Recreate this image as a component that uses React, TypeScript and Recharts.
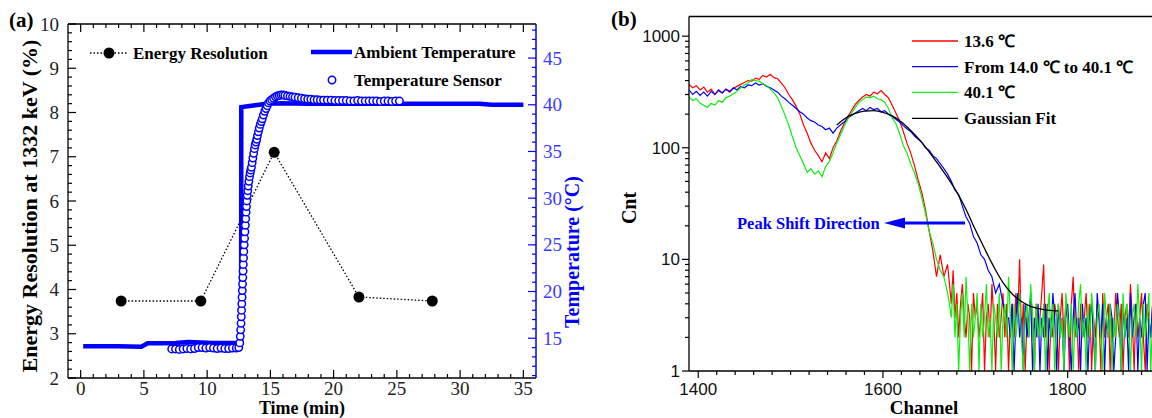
import React from "react";
import { ComposedChart, Line, XAxis, YAxis } from "recharts";

const SERIF = "'Liberation Serif', 'Times New Roman', serif";
const SANS = "'Liberation Sans', Arial, sans-serif";
const BLUE = "#0000ff";
const GREEN = "#10f010";

// ---------- panel (a) ----------
const resTime = [3.2, 9.5, 15.3, 22.0, 27.8];
const resValue = [3.74, 3.74, 7.1, 3.83, 3.74];

const ambientTime = [0.2, 1.5, 3.0, 4.8, 5.3, 6.5, 7.5, 8.5, 9.5, 10.5, 11.5, 12.69, 12.7, 13.2, 13.8, 14.7, 16, 18, 20, 22, 24, 26, 28, 30, 31.5, 32.5, 34, 35];
const ambientTemp = [14.15, 14.15, 14.15, 14.1, 14.45, 14.45, 14.5, 14.6, 14.55, 14.5, 14.5, 14.5, 39.75, 39.85, 39.95, 40.1, 40.15, 40.1, 40.1, 40.1, 40.1, 40.1, 40.1, 40.1, 40.1, 40.0, 40.0, 40.0];

const sensorTime = [
  7.2, 7.5, 7.8, 8.1, 8.4, 8.7, 9.0, 9.3, 9.6, 9.9, 10.2, 10.5, 10.8, 11.1, 11.4, 11.7, 12.0, 12.3, 12.5,
  12.58, 12.62, 12.65, 12.68, 12.7, 12.72, 12.74, 12.76, 12.78, 12.8, 12.82, 12.84, 12.86, 12.88, 12.9, 12.93, 12.96, 12.99, 13.02, 13.05, 13.08, 13.11, 13.14,
  13.17, 13.21, 13.25, 13.3, 13.35, 13.4, 13.45, 13.5, 13.56, 13.62, 13.68, 13.74, 13.8, 13.86, 13.92, 13.98, 14.05, 14.12, 14.2, 14.28, 14.36, 14.45, 14.55, 14.65, 14.75, 14.85, 14.97, 15.1, 15.25, 15.4, 15.55, 15.7, 15.85, 16.0, 16.15,
  16.35, 16.55, 16.75, 16.95, 17.2, 17.45, 17.7, 17.95, 18.2, 18.45, 18.7, 18.95, 19.2, 19.5, 19.8, 20.1, 20.4, 20.7, 21.0, 21.3, 21.6, 21.9, 22.2, 22.5, 22.8, 23.1, 23.4, 23.7, 24.0, 24.3, 24.6, 24.9, 25.2,
];
const sensorTemp = [
  13.85, 13.85, 13.8, 13.85, 13.9, 13.85, 13.9, 14.0, 14.0, 13.95, 14.0, 13.95, 13.9, 13.95, 13.9, 13.9, 13.95, 13.95, 14.0,
  14.5, 15.2, 15.9, 16.6, 17.3, 18.0, 18.7, 19.4, 20.1, 20.8, 21.5, 22.2, 22.9, 23.6, 24.3, 25.0, 25.7, 26.4, 27.1, 27.8, 28.5, 29.1, 29.7,
  30.3, 30.8, 31.3, 31.8, 32.3, 32.7, 33.0, 33.3, 33.8, 34.3, 34.8, 35.3, 35.7, 36.0, 36.3, 36.7, 37.1, 37.5, 37.9, 38.2, 38.5, 38.9, 39.3, 39.6, 39.9, 40.2, 40.4, 40.55, 40.7, 40.85, 40.95, 41.0, 41.05, 41.05, 41.0,
  40.95, 40.9, 40.85, 40.8, 40.75, 40.7, 40.65, 40.6, 40.6, 40.55, 40.55, 40.5, 40.5, 40.5, 40.5, 40.45, 40.45, 40.45, 40.45, 40.4, 40.4, 40.45, 40.4, 40.4, 40.4, 40.4, 40.4, 40.35, 40.4, 40.4, 40.35, 40.4, 40.4,
];

const timeMajor = [0, 5, 10, 15, 20, 25, 30, 35];
const resMajor = [2, 3, 4, 5, 6, 7, 8, 9, 10];
const tempMajor = [15, 20, 25, 30, 35, 40, 45];

// ---------- panel (b) ----------
// peak region sampled every 4 channels, noisy tail every 2 channels
const redStart = 1390;
const redCnt = [
  370, 345, 360, 330, 350, 315, 335, 300, 325, 310,
  335, 315, 340, 355, 370, 385, 400, 395, 420, 410,
  445, 430, 455, 425, 415, 380, 345, 300, 270, 235,
  200, 160, 135, 110, 95, 85, 75, 90, 80, 100,
  115, 140, 165, 190, 215, 245, 265, 285, 300, 290,
  315, 305, 325, 300, 280, 240, 205, 175, 140, 110,
  90, 70, 52, 40, 28, 18, 12, 7, 11, 7,
  9,
];
const redTailStart = 1672;
const redTail = [
  6, 4, 8, 3, 5, 2, 4, 6, 3, 2,
  4, 3, 1, 5, 3, 4, 2, 3, 5, 1,
  3, 4, 2, 6, 3, 1, 4, 2, 3, 5,
  2, 4, 1, 3, 4, 2, 5, 3, 10, 2,
  4, 1, 3, 2, 5, 3, 1, 4, 2, 3,
  5, 9, 2, 4, 1, 3, 2, 4, 3, 1,
  3, 5, 2, 4, 3, 1, 4, 7, 2, 3,
  1, 4, 2, 3, 5, 2, 4, 1, 3, 2,
  4, 3, 1, 5, 2, 3, 4, 1, 3, 2,
  5, 3, 2, 4, 1, 3, 4, 2, 6, 3,
  1, 4, 2, 3, 5, 2, 1, 4, 3, 2,
  4, 1, 3, 5, 2,
];
const blueStart = 1390;
const blueCnt = [
  330, 300, 320, 295, 315, 290, 320, 300, 330, 310,
  335, 320, 345, 330, 355, 345, 365, 360, 380, 365,
  375, 355, 345, 330, 315, 290, 275, 255, 240, 225,
  210, 200, 185, 175, 170, 160, 155, 145, 150, 135,
  150, 160, 170, 185, 195, 205, 215, 225, 215, 230,
  220, 225, 210, 215, 200, 190, 180, 170, 158, 148,
  140, 128, 120, 112, 100, 95, 85, 80, 72, 65,
  58, 50, 42, 38, 30, 24, 21, 16, 14, 11,
  10, 8, 7, 5, 6, 4, 3,
];
const blueTailStart = 1736;
const blueTail = [
  3, 2, 4, 1, 3, 5, 2, 3, 1, 4,
  2, 3, 5, 1, 3, 2, 4, 1, 3, 2,
  4, 1, 3, 2, 5, 3, 1, 4, 2, 3,
  1, 3, 4, 2, 1, 3, 5, 2, 3, 1,
  4, 2, 3, 1, 3, 4, 2, 1, 5, 3,
  2, 4, 1, 3, 2, 4, 3, 1, 2, 5,
  3, 1, 4, 2, 3, 1, 5, 2, 3, 4,
  1, 3, 2, 4, 5, 1, 3, 2, 4, 1,
  3, 2, 4,
];
const greenStart = 1390;
const greenCnt = [
  285, 265, 275, 250, 240, 230, 250, 240, 265, 255,
  280, 290, 305, 320, 345, 365, 380, 410, 400, 395,
  375, 360, 335, 310, 280, 235, 195, 160, 125, 100,
  85, 72, 60, 65, 58, 62, 55, 68, 75, 90,
  110, 130, 155, 180, 205, 230, 255, 270, 285, 280,
  290, 275, 270, 255, 225, 185, 165, 135, 105, 90,
  72, 60, 48, 36, 26, 18, 14, 10, 8, 7,
  5,
];
const greenTailStart = 1672;
const greenTail = [
  4, 3, 6, 2, 4, 1, 3, 5, 2, 7,
  3, 1, 4, 2, 3, 5, 1, 4, 2, 3,
  6, 2, 3, 1, 4, 3, 2, 5, 1, 3,
  4, 2, 7, 3, 1, 4, 2, 3, 5, 2,
  1, 3, 4, 2, 6, 3, 1, 4, 2, 3,
  2, 4, 1, 3, 5, 2, 4, 1, 3, 4,
  2, 3, 1, 5, 3, 2, 4, 1, 3, 2,
  4, 6, 2, 3, 1, 4, 2, 5, 3, 1,
  3, 4, 2, 1, 5, 3, 2, 4, 1, 3,
  2, 4, 3, 1, 5, 2, 4, 3, 1, 3,
  4, 2, 6, 3, 1, 4, 2, 3, 5, 1,
  3, 4, 2, 6, 3,
];
const fitChannel = [1550, 1560, 1570, 1580, 1590, 1600, 1610, 1620, 1630, 1640, 1650, 1660, 1670, 1680, 1690, 1700, 1710, 1720, 1730, 1740, 1750, 1760, 1770, 1780, 1790];
const fitCnt = [160, 186, 203, 213, 215, 208, 193, 170, 143, 117, 92, 71, 54, 40, 28, 18.5, 12.5, 8.6, 6.2, 4.9, 4.2, 3.8, 3.6, 3.5, 3.45];

const channelMajor = [1400, 1600, 1800];
const cntMajor = [1, 10, 100, 1000];

// ---------- helpers ----------
const steps = (from: number, to: number, step: number) => {
  const out: number[] = [];
  for (let v = from; v <= to + 1e-9; v += step) out.push(Math.round(v * 1000) / 1000);
  return out;
};
const isMajor = (v: number, list: number[]) => list.some((m) => Math.abs(m - v) < 1e-6);

const resTable = resTime.map((t, i) => ({ t, res: resValue[i] }));
const ambientTable = ambientTime.map((t, i) => ({ t, temp: ambientTemp[i] }));
const sensorTable = sensorTime.map((t, i) => ({ t, temp: sensorTemp[i] }));
const spectrum = (arr: number[], start: number, step: number) => arr.map((cnt, i) => ({ ch: start + i * step, cnt }));
const redTable = [...spectrum(redCnt, redStart, 4), ...spectrum(redTail, redTailStart, 2)];
const blueTable = [...spectrum(blueCnt, blueStart, 4), ...spectrum(blueTail, blueTailStart, 2)];
const greenTable = [...spectrum(greenCnt, greenStart, 4), ...spectrum(greenTail, greenTailStart, 2)];
const fitTable = fitChannel.map((ch, i) => ({ ch, cnt: fitCnt[i] }));

const logTicks = [1, 2, 3, 4, 5, 6, 7, 8, 9, 10, 20, 30, 40, 50, 60, 70, 80, 90, 100, 200, 300, 400, 500, 600, 700, 800, 900, 1000];

type Side = "bottom" | "top" | "left" | "right";

function makeTick(side: Side, majors: number[], opts: { inward: boolean; color: string; labelColor: string; font: string; size: number; gap: number; label: boolean; major?: number; minor?: number }) {
  return (props: any) => {
    const { x, y, payload } = props;
    const v = payload.value;
    const major = isMajor(v, majors);
    const len = major ? opts.major ?? 8 : opts.minor ?? 4;
    const s = opts.inward ? -1 : 1;
    let x2 = x, y2 = y, tx = x, ty = y, anchor = "middle";
    if (side === "bottom") { y2 = y + s * len; ty = y + opts.gap; }
    if (side === "top") { y2 = y - s * len; ty = y - opts.gap; }
    if (side === "left") { x2 = x - s * len; tx = x - opts.gap; anchor = "end"; }
    if (side === "right") { x2 = x + s * len; tx = x + opts.gap; anchor = "start"; }
    return (
      <g>
        <line x1={x} y1={y} x2={x2} y2={y2} stroke={opts.color} strokeWidth={1.2} />
        {major && opts.label && (
          <text x={tx} y={ty} dy="0.35em" textAnchor={anchor} fill={opts.labelColor} fontFamily={opts.font} fontSize={opts.size}>
            {v}
          </text>
        )}
      </g>
    );
  };
}

function PanelA() {
  const serifTick = { inward: true, color: "#000", labelColor: "#222", font: SERIF, size: 19, label: true };
  return (
    <ComposedChart width={600} height={418} margin={{ top: 23, right: 0, bottom: 0, left: 0 }}>
      <XAxis xAxisId="bottom" dataKey="t" type="number" domain={[-1, 36]} allowDataOverflow ticks={steps(0, 35, 1)} interval={0}
        height={40} tickSize={0} tickMargin={0} tickLine={false} axisLine={{ stroke: "#000", strokeWidth: 1.3 }}
        tick={makeTick("bottom", timeMajor, { ...serifTick, gap: 10 })} />
      <XAxis xAxisId="top" orientation="top" dataKey="t" type="number" domain={[-1, 36]} allowDataOverflow ticks={steps(0, 35, 1)} interval={0}
        height={1} tickSize={0} tickMargin={0} tickLine={false} axisLine={{ stroke: "#000", strokeWidth: 1.3 }}
        tick={makeTick("top", timeMajor, { ...serifTick, gap: 0, label: false })} />
      <YAxis yAxisId="left" type="number" domain={[2, 10]} allowDataOverflow ticks={steps(2, 10, 0.2)} interval={0}
        width={68} tickSize={0} tickMargin={0} tickLine={false} axisLine={{ stroke: "#000", strokeWidth: 1.3 }}
        tick={makeTick("left", resMajor, { ...serifTick, gap: 9 })} />
      <YAxis yAxisId="right" orientation="right" type="number" domain={[10.74, 48.65]} allowDataOverflow ticks={steps(11, 48, 1)} interval={0}
        width={64} tickSize={0} tickMargin={0} tickLine={false} axisLine={{ stroke: BLUE, strokeWidth: 1.5 }}
        tick={makeTick("right", tempMajor, { ...serifTick, color: BLUE, labelColor: "#3a3aff", gap: 7 })} />
      <Line xAxisId="bottom" yAxisId="right" data={ambientTable} dataKey="temp" type="linear" stroke={BLUE} strokeWidth={4.5}
        dot={false} activeDot={false} isAnimationActive={false} strokeLinejoin="miter" />
      <Line xAxisId="bottom" yAxisId="right" data={sensorTable} dataKey="temp" type="linear" stroke="none"
        dot={{ r: 3.7, fill: "#fff", stroke: BLUE, strokeWidth: 1.5 }} activeDot={false} isAnimationActive={false} />
      <Line xAxisId="bottom" yAxisId="left" data={resTable} dataKey="res" type="linear" stroke="#000" strokeWidth={1.3}
        strokeDasharray="1.5 2" dot={{ r: 5.5, fill: "#000", stroke: "none", strokeDasharray: "0" }} activeDot={false} isAnimationActive={false} />
    </ComposedChart>
  );
}

function PanelB() {
  const sansTick = { inward: false, color: "#000", labelColor: "#111", font: SANS, size: 17, label: true, major: 7, minor: 4 };
  return (
    <ComposedChart width={560} height={418} margin={{ top: 15.5, right: 0, bottom: 0, left: 0 }}>
      <XAxis xAxisId="bottom" dataKey="ch" type="number" domain={[1390, 1900]} allowDataOverflow ticks={steps(1400, 1900, 20)} interval={0}
        height={47} tickSize={0} tickMargin={0} tickLine={false} axisLine={{ stroke: "#000", strokeWidth: 1.3 }}
        tick={makeTick("bottom", channelMajor, { ...sansTick, gap: 18 })} />
      <XAxis xAxisId="top" orientation="top" dataKey="ch" type="number" domain={[1390, 1900]} allowDataOverflow height={1}
        tick={false} tickLine={false} axisLine={{ stroke: "#000", strokeWidth: 1.3 }} />
      <YAxis yAxisId="left" type="number" scale="log" domain={[1, 1500]} allowDataOverflow ticks={logTicks} interval={0}
        width={89} tickSize={0} tickMargin={0} tickLine={false} axisLine={{ stroke: "#000", strokeWidth: 1.3 }}
        tick={makeTick("left", cntMajor, { ...sansTick, gap: 9 })} />
      <Line xAxisId="bottom" yAxisId="left" data={redTable} dataKey="cnt" type="linear" stroke="#ff0000" strokeWidth={1.2} dot={false} activeDot={false} isAnimationActive={false} />
      <Line xAxisId="bottom" yAxisId="left" data={blueTable} dataKey="cnt" type="linear" stroke={BLUE} strokeWidth={1.2} dot={false} activeDot={false} isAnimationActive={false} />
      <Line xAxisId="bottom" yAxisId="left" data={greenTable} dataKey="cnt" type="linear" stroke={GREEN} strokeWidth={1.2} dot={false} activeDot={false} isAnimationActive={false} />
      <Line xAxisId="bottom" yAxisId="left" data={fitTable} dataKey="cnt" type="monotone" stroke="#000" strokeWidth={1.3} dot={false} activeDot={false} isAnimationActive={false} />
    </ComposedChart>
  );
}

function Overlay() {
  const bold = { fontFamily: SERIF, fontWeight: 700 as const };
  return (
    <svg width={1152} height={418} style={{ position: "absolute", left: 0, top: 0, pointerEvents: "none" }}>
      <text x={9} y={20} dy="0.35em" fontSize={21} {...bold}>(a)</text>
      <text x={611} y={19} dy="0.35em" fontSize={21} {...bold}>(b)</text>

      <text transform="translate(29,206) rotate(-90)" textAnchor="middle" dy="0.35em" fontSize={22} {...bold}>Energy Resolution at 1332 keV (%)</text>
      <text transform="translate(572,252) rotate(-90)" textAnchor="middle" dy="0.35em" fontSize={20} fill={BLUE} {...bold}>Temperature (°C)</text>
      <text x={302} y={408} textAnchor="middle" dy="0.35em" fontSize={18} {...bold}>Time (min)</text>
      <text x={924} y={407} textAnchor="middle" dy="0.35em" fontSize={19} {...bold}>Channel</text>
      <text transform="translate(629,208) rotate(-90)" textAnchor="middle" dy="0.35em" fontSize={20} {...bold}>Cnt</text>

      <g fontSize={17} {...bold}>
        <line x1={90} x2={127} y1={53} y2={53} stroke="#000" strokeWidth={1.3} strokeDasharray="1.5 2" />
        <circle cx={109} cy={53} r={5.5} fill="#000" />
        <text x={133} y={53} dy="0.35em">Energy Resolution</text>
        <line x1={311} x2={352} y1={52} y2={52} stroke={BLUE} strokeWidth={4.5} />
        <text x={354} y={52} dy="0.35em">Ambient Temperature</text>
        <circle cx={332} cy={80} r={3.7} fill="#fff" stroke={BLUE} strokeWidth={1.5} />
        <text x={354} y={80} dy="0.35em">Temperature Sensor</text>
      </g>

      <g fontSize={17} {...bold}>
        <line x1={912} x2={958} y1={41} y2={41} stroke="#ff0000" strokeWidth={1.3} />
        <text x={964} y={41} dy="0.35em">13.6 ℃</text>
        <line x1={912} x2={958} y1={66.7} y2={66.7} stroke={BLUE} strokeWidth={1.3} />
        <text x={964} y={66.7} dy="0.35em">From 14.0 ℃ to 40.1 ℃</text>
        <line x1={912} x2={958} y1={92.3} y2={92.3} stroke={GREEN} strokeWidth={1.3} />
        <text x={964} y={92.3} dy="0.35em">40.1 ℃</text>
        <line x1={912} x2={958} y1={118.3} y2={118.3} stroke="#000" strokeWidth={1.3} />
        <text x={964} y={118.3} dy="0.35em">Gaussian Fit</text>
      </g>

      <text x={737} y={223} dy="0.35em" fontSize={16.5} fill={BLUE} {...bold}>Peak Shift Direction</text>
      <line x1={965} x2={900} y1={223} y2={223} stroke={BLUE} strokeWidth={3} />
      <polygon points="884,223 905,217.5 905,228.5" fill={BLUE} />
    </svg>
  );
}

export default function App() {
  return (
    <div style={{ position: "absolute", left: 0, top: 0, width: 1152, height: 418, overflow: "hidden", background: "#fff" }}>
      <div style={{ position: "absolute", left: 0, top: 0 }}>
        <PanelA />
      </div>
      <div style={{ position: "absolute", left: 600, top: 0 }}>
        <PanelB />
      </div>
      <Overlay />
    </div>
  );
}
